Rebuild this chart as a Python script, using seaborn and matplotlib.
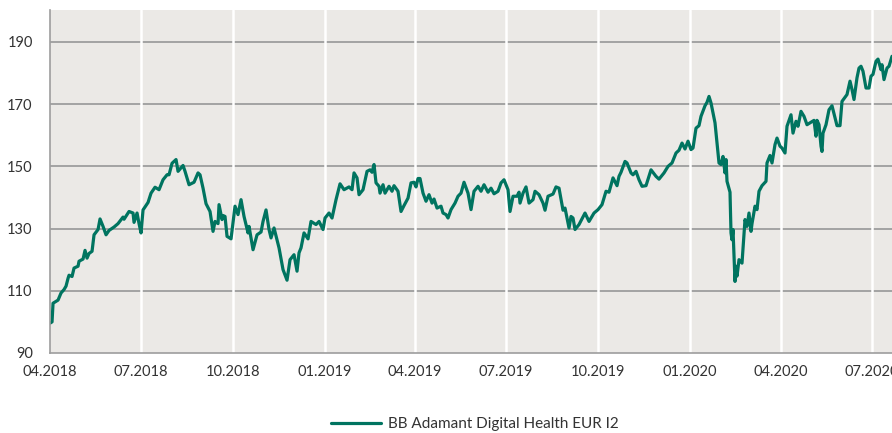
import pandas as pd
import matplotlib.pyplot as plt
import matplotlib.dates as mdates
import seaborn as sns

# fund performance, indexed to 100 at launch (days counted from 01.04.2018)
days = [
    0, 2, 3, 8, 11, 14, 16, 18, 19, 22, 24, 28, 29, 33, 35, 37, 39, 42, 44, 48,
    50, 53, 56, 59, 64, 68, 73, 74, 79, 83, 84, 87, 89, 91, 93, 98, 101, 105, 109, 113,
    117, 119, 122, 126, 128, 133, 135, 139, 144, 148, 150, 153, 156, 160, 163, 165, 168, 169, 172, 173,
    175, 177, 181, 185, 188, 191, 194, 198, 199, 203, 207, 211, 213, 216, 219, 221, 224, 229, 233, 237,
    240, 244, 247, 249,
    251, 254, 258, 261, 266, 269, 273, 275, 279, 282, 286, 290, 294, 299, 302, 304, 307, 309, 313, 317,
    320, 322, 324, 326, 329, 330, 333, 335, 339, 342, 344, 348, 351, 354, 358, 361, 364, 366, 368, 370,
    373, 376, 379, 382, 384, 387, 391, 393, 396, 398, 401, 405, 408, 411, 414, 418, 421, 424, 428, 431,
    434, 438, 441, 444, 448, 451, 454, 458, 460, 463, 467, 469, 470, 473, 476, 479, 483, 485, 489, 493,
    495, 498, 503, 506, 509, 513, 515, 519, 521, 523, 525, 529,
    535, 539, 544, 548, 552, 556, 559, 563, 567, 569, 571, 575, 577, 581, 583, 586, 589, 592, 596, 601,
    606, 609, 614, 618, 622, 626, 629, 632, 635, 638, 641, 643, 646, 649, 651, 655, 657, 659, 661, 665,
    667, 669, 671, 673, 675, 676, 677, 680, 681, 682, 683, 685, 686, 687, 689, 692, 695, 697, 699, 701,
    702, 705, 707, 709, 712, 716, 717, 720, 722, 725, 727, 730, 732, 735, 737, 741, 743, 746, 748, 751,
    754, 757, 761, 764, 766, 767, 769, 771, 772, 773, 776, 779, 782, 785, 787, 790, 792, 794, 797, 800,
    802, 804, 807, 809, 811, 813, 816, 819, 821, 823, 826, 828, 831, 832, 834, 837, 839, 842,
]
values = [
    99.6, 100.0, 106.0, 107.0, 109.3, 110.4, 111.5, 114.0, 115.0, 114.6, 117.3, 117.9, 119.5, 120.2, 123.0, 120.5, 122.0, 122.7, 128.0, 129.7,
    133.1, 130.7, 128.0, 129.4, 130.5, 131.6, 133.7, 133.0, 135.5, 135.0, 132.0, 135.0, 131.6, 128.6, 136.0, 138.4, 141.4, 143.3, 142.5, 145.7,
    147.3, 147.3, 151.0, 152.2, 148.4, 150.3, 148.4, 144.1, 144.9, 147.9, 147.3, 143.0, 138.0, 135.5, 129.1, 132.3, 131.6, 137.7, 132.9, 134.2,
    133.9, 127.5, 126.7, 137.2, 134.5, 139.3, 133.9, 128.6, 130.7, 123.2, 128.0, 128.9, 132.3, 136.0, 129.7, 127.0, 130.2, 123.8, 116.8, 113.4,
    120.0, 121.6, 116.3, 122.2,
    123.8, 128.6, 126.7, 132.3, 131.3, 132.3, 129.7, 133.4, 135.0, 133.4, 139.3, 144.4, 142.5, 143.4, 142.5, 147.9, 146.3, 140.9, 142.5, 148.4,
    148.9, 148.1, 150.6, 144.7, 143.6, 141.4, 144.1, 141.4, 143.6, 142.0, 143.8, 142.0, 135.5, 137.4, 139.8, 144.7, 144.9, 143.4, 146.1, 146.1,
    141.4, 138.8, 140.9, 138.2, 139.5, 136.6, 137.2, 135.0, 134.5, 133.4, 136.1, 138.2, 140.4, 141.4, 144.9, 141.4, 136.1, 142.0, 143.6, 142.0,
    144.1, 141.7, 143.0, 141.2, 142.0, 144.7, 145.7, 142.5, 135.5, 140.4, 140.4, 141.7, 138.2, 141.4, 143.4, 138.2, 139.3, 142.0, 140.9, 138.2,
    135.9, 140.4, 141.1, 143.4, 143.0, 135.9, 136.6, 130.2, 133.9, 133.4, 129.7, 131.3,
    135.0, 132.3, 135.0, 136.1, 137.7, 142.0, 141.7, 146.3, 143.8, 146.8, 148.1, 151.6, 151.1, 147.9, 147.3, 148.4, 145.7, 143.6, 143.8, 148.9,
    146.8, 145.9, 147.9, 150.0, 151.1, 154.3, 155.2, 157.5, 155.6, 158.1, 155.4, 155.9, 162.3, 163.1, 166.1, 169.5, 170.6, 172.5, 170.4, 164.0,
    157.5, 151.1, 150.6, 153.2, 147.9, 152.2, 145.2, 141.7, 128.6, 126.4, 129.7, 113.0, 117.9, 114.7, 120.0, 118.9, 132.9, 130.7, 135.0, 129.1,
    131.6, 137.2, 136.1, 142.0, 143.8, 145.2, 151.1, 153.5, 151.1, 157.0, 159.1, 156.5, 155.9, 154.3, 162.9, 166.6, 160.7, 164.5, 162.9, 167.7,
    166.1, 163.4, 164.2, 164.8, 159.7, 164.8, 163.4, 156.5, 154.8, 160.7, 163.4, 168.2, 169.5, 165.6, 163.1, 163.1, 170.9, 171.8, 173.1, 177.4,
    174.7, 171.5, 178.5, 181.6, 182.2, 180.6, 175.2, 175.2, 179.0, 179.6, 183.8, 184.5, 181.1, 182.7, 177.9, 181.6, 182.2, 185.4,
]
series_name = "BB Adamant Digital Health EUR I2"
y_ticks = [90, 110, 130, 150, 170, 190]
x_ticks = ["2018-04-01", "2018-07-01", "2018-10-01", "2019-01-01", "2019-04-01",
           "2019-07-01", "2019-10-01", "2020-01-01", "2020-04-01", "2020-07-01"]

start = pd.Timestamp("2018-04-01")
df = pd.DataFrame({
    "date": start + pd.to_timedelta(days, unit="D"),
    "value": values,
    "fund": series_name,
})

# ===============================
# STYLE
# ===============================
sns.set_style("white")
plt.rcParams["font.family"] = ["Lato", "DejaVu Sans"]

fig = plt.figure(figsize=(8.92, 4.33), dpi=100)
ax = fig.add_axes([0.0561, 0.1848, 0.9439, 0.7922])
ax.set_facecolor("#ebe9e6")

sns.lineplot(data=df, x="date", y="value", hue="fund", palette=["#007460"],
             linewidth=2.3, ax=ax, legend=False)

ax.set_xlim(start, start + pd.Timedelta(days=842))
ax.set_ylim(90, 200.3)
ax.set_yticks(y_ticks)
ax.set_xticks(pd.to_datetime(x_ticks))
ax.xaxis.set_major_formatter(mdates.DateFormatter("%m.%Y"))

# grid: grey horizontal, white vertical
for y in y_ticks[1:]:
    ax.axhline(y, color="#9d9d9d", linewidth=1.3, zorder=1)
for x in pd.to_datetime(x_ticks[1:]):
    ax.axvline(x, color="white", linewidth=1.8, zorder=1)

for side in ["top", "right"]:
    ax.spines[side].set_visible(False)
ax.spines["left"].set_color("#9d9d9d")
ax.spines["left"].set_linewidth(1.2)
ax.spines["bottom"].set_color("#9d9d9d")
ax.spines["bottom"].set_linewidth(1.2)

ax.tick_params(axis="y", length=10, width=1.3, color="#9d9d9d", labelsize=10.5,
               labelcolor="#333333", pad=2.5)
ax.tick_params(axis="x", length=4, width=1.2, color="#9d9d9d", labelsize=10.5,
               labelcolor="#333333", pad=5)
ax.set_xlabel("")
ax.set_ylabel("")

handle = plt.Line2D([], [], color="#007460", linewidth=2.3)
fig.legend([handle], [series_name], loc="center", bbox_to_anchor=(0.532, 0.021),
           frameon=False, fontsize=11, handlelength=3.3, handletextpad=0.45,
           labelcolor="#333333")

plt.savefig("out.png", dpi=100)
